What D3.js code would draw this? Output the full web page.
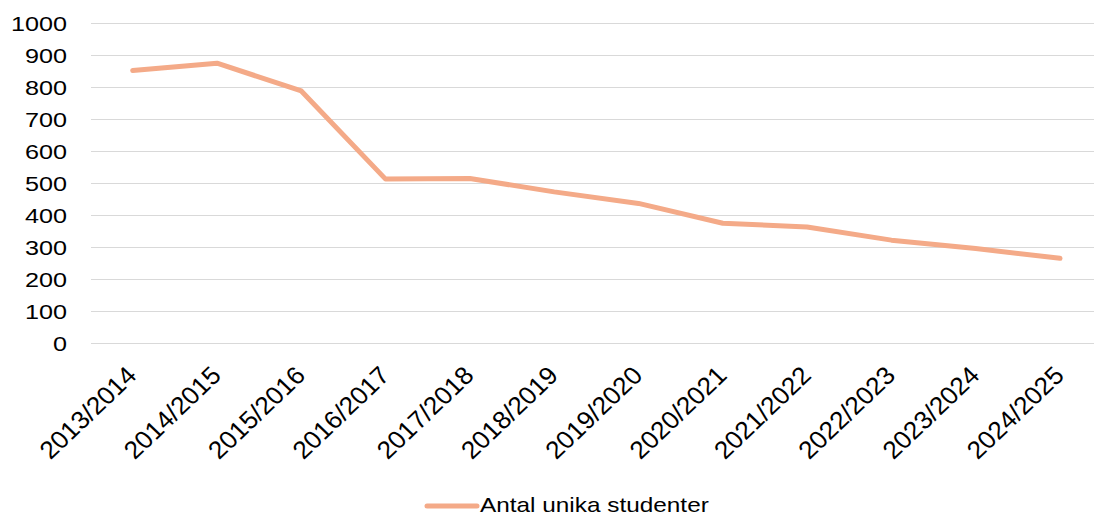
<!DOCTYPE html>
<html lang="sv">
<head>
    <meta charset="UTF-8">
    <title>Antal unika studenter</title>
    <style>
        body { margin: 0; background: #fff; }
        svg { display: block; }
        text { font-family: "Liberation Sans", Arial, sans-serif; fill: #000; }
        .grid line { stroke: #d9d9d9; stroke-width: 1.5; shape-rendering: crispEdges; }
    </style>
</head>
<body>
    <div id='chart'></div>

    <script src='https://cdnjs.cloudflare.com/ajax/libs/d3/7.8.5/d3.min.js'></script>
    <script type='text/javascript'>
        // data
        const years = ['2013/2014', '2014/2015', '2015/2016', '2016/2017', '2017/2018', '2018/2019',
                       '2019/2020', '2020/2021', '2021/2022', '2022/2023', '2023/2024', '2024/2025'];
        const students = [852, 875, 788, 512, 514, 472, 436, 374, 362, 321, 295, 264];
        const yTicks = [0, 100, 200, 300, 400, 500, 600, 700, 800, 900, 1000];
        const seriesName = 'Antal unika studenter';

        const width = 1094;
        const height = 515;
        const lineColor = '#f4aa88';
        const stretch = 1.2;   // text in the picture is a bit wider than normal

        let svg = d3.select('#chart')
                    .append('svg')
                      .attr('width', width)
                      .attr('height', height);

        let xScale = d3.scalePoint().domain(years).range([132.7, 1060]);
        let yScale = d3.scaleLinear().domain([0, 1000]).range([342.7, 23.2]);

        // horizontal grid lines
        svg.append('g')
             .attr('class', 'grid')
           .selectAll('line')
           .data(yTicks)
           .join('line')
             .attr('x1', 90.5)
             .attr('x2', width)
             .attr('y1', d => Math.round(yScale(d)) + 0.5)
             .attr('y2', d => Math.round(yScale(d)) + 0.5);

        // y axis labels
        let yAxis = d3.axisLeft(yScale)
                      .tickValues(yTicks)
                      .tickFormat(d3.format('d'))
                      .tickSize(0)
                      .tickPadding(0);
        let yG = svg.append('g')
                      .attr('transform', 'translate(67, 0)')
                      .call(yAxis);
        yG.select('.domain').remove();
        yG.selectAll('text')
            .attr('x', null)
            .attr('dy', null)
            .attr('transform', `scale(${stretch}, 1) translate(0, 7.5)`)
            .style('font-size', '21px')
            .style('font-family', '"Liberation Sans", Arial, sans-serif')
            .attr('fill', '#000');

        // x axis labels, rotated
        let xAxis = d3.axisBottom(xScale).tickSize(0).tickPadding(0);
        let xG = svg.append('g')
                      .call(xAxis);
        xG.select('.domain').remove();
        xG.selectAll('text')
            .attr('y', null)
            .attr('dy', null)
            .style('text-anchor', 'end')
            .style('font-size', '25px')
            .style('font-family', '"Liberation Sans", Arial, sans-serif')
            .attr('fill', '#000')
            .attr('transform', 'translate(5, 377) scale(1.05, 1) rotate(-45)');

        // the line
        let line = d3.line()
                     .x((d, i) => xScale(years[i]))
                     .y(d => yScale(d));

        svg.append('path')
             .datum(students)
             .attr('d', line)
             .attr('fill', 'none')
             .attr('stroke', lineColor)
             .attr('stroke-width', 5)
             .attr('stroke-linejoin', 'round')
             .attr('stroke-linecap', 'round');

        // legend
        let legend = svg.append('g').attr('transform', 'translate(425, 506)');
        legend.append('line')
                .attr('x1', 2).attr('x2', 52)
                .attr('y1', 0).attr('y2', 0)
                .attr('stroke', lineColor)
                .attr('stroke-width', 5)
                .attr('stroke-linecap', 'round');
        legend.append('text')
                .attr('transform', `translate(55, 5.5) scale(1.16, 1)`)
                .style('font-size', '21px')
                .text(seriesName);
    </script>
</body>
</html>
